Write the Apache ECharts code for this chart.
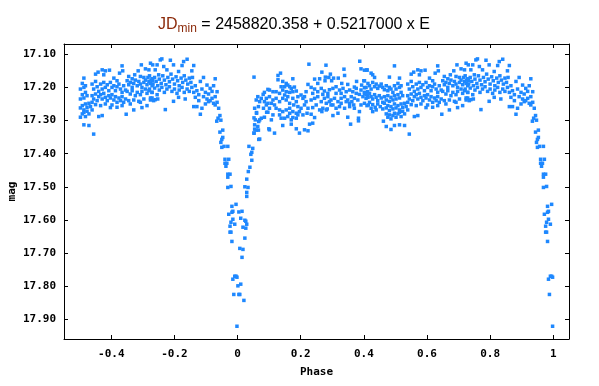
<!DOCTYPE html>
<html><head><meta charset="utf-8">
<script src="https://cdn.jsdelivr.net/npm/echarts@6/dist/echarts.min.js"></script>
<style>html,body{margin:0;padding:0;background:#fff}#c{width:599px;height:386px}</style>
</head><body><div id="c"></div>
<script>
// Phase-folded light curve, phase in [0,1); points with phase >= 0.5 are also shown at phase-1
const egress = [[0.004,17.576],[0.014,17.574],[0.010,17.595],[0.023,17.601],[0.026,17.604],[0.029,17.613],[0.017,17.622],[0.026,17.625],[0.023,17.655],[0.007,17.686],[0.017,17.689],[0.014,17.713],[0.001,17.799],[0.010,17.794],[0.004,17.825],[0.007,17.825],[0.020,17.843],[0.036,17.378],[0.048,17.384],[0.045,17.396],[0.042,17.402],[0.045,17.420],[0.039,17.441],[0.034,17.454],[0.029,17.477],[0.023,17.500],[0.033,17.502],[0.029,17.517],[0.029,17.529],[0.067,17.357],[0.052,17.338],[0.054,17.326],[0.066,17.329],[0.052,17.292],[0.060,17.276],[0.070,17.298]];
const bandEarly = [[0.052,17.169],[0.085,17.215],[0.096,17.206],[0.081,17.221],[0.064,17.228],[0.075,17.233],[0.059,17.238],[0.070,17.243],[0.085,17.243],[0.054,17.263],[0.066,17.258],[0.082,17.263],[0.092,17.275],[0.060,17.278],[0.075,17.293],[0.085,17.290],[0.056,17.298],[0.067,17.303],[0.054,17.313],[0.064,17.318],[0.059,17.329],[0.052,17.338],[0.070,17.356],[0.099,17.325],
[0.226,17.130],[0.280,17.133],[0.387,17.121],[0.337,17.145],[0.391,17.144],[0.402,17.148],[0.410,17.148],[0.267,17.154],[0.136,17.157],[0.128,17.164],[0.294,17.160],[0.339,17.164],[0.278,17.169],[0.289,17.170],[0.260,17.174],[0.244,17.175],[0.304,17.172],[0.319,17.172],[0.254,17.188],[0.175,17.174],[0.143,17.182],[0.128,17.177],[0.330,17.188],[0.377,17.182],[0.400,17.180],[0.349,17.191],[0.277,17.180],[0.298,17.180],[0.154,17.188],[0.149,17.198],[0.159,17.193],[0.170,17.203],[0.180,17.199],[0.101,17.208],[0.112,17.213],[0.122,17.213],[0.133,17.218],[0.143,17.208],[0.154,17.213],[0.165,17.215],[0.175,17.213],[0.186,17.211],[0.201,17.223],[0.212,17.228],[0.223,17.191],[0.233,17.200],[0.244,17.205],[0.254,17.213],[0.265,17.203],[0.275,17.211],[0.291,17.207],[0.302,17.203],[0.312,17.198],[0.323,17.208],[0.334,17.203],[0.344,17.213],[0.355,17.208],[0.365,17.213],[0.376,17.203],[0.391,17.208],[0.402,17.201],[0.412,17.213],[0.393,17.193],[0.370,17.199],[0.091,17.233],[0.101,17.228],[0.112,17.238],[0.122,17.233],[0.133,17.243],[0.143,17.233],[0.154,17.238],[0.165,17.248],[0.096,17.248],[0.107,17.248],[0.191,17.228],[0.207,17.233],[0.217,17.243],[0.233,17.238],[0.244,17.233],[0.254,17.228],[0.265,17.243],[0.275,17.233],[0.286,17.228],[0.296,17.238],[0.307,17.233],[0.318,17.243],[0.328,17.233],[0.339,17.228],[0.349,17.238],[0.360,17.228],[0.370,17.233],[0.381,17.238],[0.397,17.228],[0.407,17.233],[0.414,17.253],[0.391,17.253],[0.368,17.253],[0.355,17.248],[0.122,17.263],[0.133,17.268],[0.143,17.273],[0.154,17.268],[0.165,17.278],[0.175,17.273],[0.186,17.278],[0.191,17.283],[0.159,17.288],[0.175,17.291],[0.201,17.263],[0.212,17.253],[0.223,17.263],[0.238,17.261],[0.249,17.253],[0.260,17.268],[0.270,17.263],[0.281,17.268],[0.296,17.253],[0.312,17.263],[0.323,17.258],[0.339,17.263],[0.355,17.258],[0.370,17.263],[0.386,17.273],[0.096,17.275],[0.112,17.283],[0.133,17.283],[0.149,17.293],[0.220,17.278],[0.233,17.281],[0.244,17.291],[0.267,17.273],[0.284,17.265],[0.302,17.285],[0.318,17.278],[0.349,17.290],[0.383,17.293],[0.107,17.298],[0.138,17.293],[0.170,17.298],[0.186,17.293],[0.143,17.315],[0.170,17.311],[0.186,17.325],[0.212,17.328],[0.223,17.331],[0.228,17.311],[0.238,17.308],[0.101,17.328],[0.117,17.338],[0.196,17.338],[0.358,17.311],[0.383,17.301],
[0.138,17.198],[0.165,17.198],[0.149,17.223],[0.159,17.228],[0.175,17.233],[0.186,17.243],[0.178,17.253],[0.191,17.258],[0.165,17.263],[0.196,17.273],[0.207,17.283],[0.281,17.248],[0.291,17.243],[0.302,17.253],[0.328,17.248],[0.344,17.243],[0.270,17.221],[0.286,17.218],[0.312,17.218],[0.328,17.218],[0.402,17.218],[0.386,17.221],[0.412,17.223],[0.376,17.218],[0.362,17.243],[0.238,17.218],[0.217,17.213],[0.117,17.253],[0.091,17.253],[0.101,17.263]];
const bandMid = [[0.497,17.135],[0.634,17.135],[0.695,17.132],[0.724,17.127],[0.731,17.132],[0.410,17.147],[0.571,17.147],[0.581,17.150],[0.594,17.148],[0.558,17.154],[0.550,17.160],[0.576,17.162],[0.636,17.150],[0.626,17.157],[0.685,17.150],[0.708,17.144],[0.719,17.147],[0.423,17.157],[0.428,17.162],[0.434,17.170],[0.481,17.169],[0.513,17.172],[0.608,17.172],[0.618,17.180],[0.655,17.167],[0.666,17.174],[0.674,17.162],[0.692,17.167],[0.703,17.170],[0.716,17.170],[0.729,17.174],
[0.402,17.180],[0.413,17.188],[0.407,17.200],[0.418,17.195],[0.428,17.185],[0.423,17.205],[0.434,17.198],[0.439,17.190],[0.444,17.203],[0.449,17.196],[0.455,17.190],[0.460,17.200],[0.465,17.207],[0.471,17.195],[0.476,17.210],[0.481,17.200],[0.486,17.205],[0.492,17.215],[0.497,17.195],[0.502,17.205],[0.508,17.188],[0.513,17.200],[0.518,17.195],
[0.402,17.215],[0.407,17.222],[0.413,17.230],[0.418,17.218],[0.423,17.228],[0.428,17.235],[0.434,17.222],[0.439,17.230],[0.444,17.240],[0.449,17.225],[0.455,17.232],[0.460,17.245],[0.465,17.228],[0.471,17.238],[0.476,17.225],[0.481,17.242],[0.486,17.230],[0.492,17.238],[0.497,17.225],[0.502,17.235],[0.508,17.222],[0.513,17.232],[0.518,17.215],[0.523,17.225],
[0.402,17.248],[0.410,17.255],[0.418,17.245],[0.428,17.252],[0.436,17.260],[0.444,17.250],[0.452,17.258],[0.460,17.265],
[0.465,17.248],[0.471,17.262],[0.476,17.255],[0.481,17.270],[0.486,17.258],[0.492,17.265],[0.497,17.250],[0.502,17.262],[0.508,17.255],[0.513,17.268],[0.518,17.250],[0.523,17.260],[0.529,17.248],[0.534,17.258],[0.539,17.245],
[0.471,17.280],[0.476,17.290],[0.481,17.283],[0.486,17.295],[0.492,17.285],[0.497,17.278],[0.502,17.290],[0.508,17.280],[0.513,17.275],[0.518,17.288],[0.523,17.272],[0.529,17.280],[0.539,17.268],
[0.462,17.302],[0.471,17.318],[0.486,17.327],[0.497,17.315],[0.513,17.313],[0.529,17.315],[0.544,17.341],[0.560,17.288],[0.571,17.285],[0.597,17.261],[0.647,17.281],[0.671,17.268],[0.697,17.261],[0.713,17.255],[0.428,17.273],[0.439,17.268],[0.423,17.263],
[0.539,17.190],[0.544,17.205],[0.550,17.182],[0.555,17.198],[0.560,17.212],[0.566,17.190],[0.571,17.205],[0.576,17.185],[0.581,17.200],[0.587,17.192],[0.592,17.210],[0.597,17.185],[0.602,17.200],[0.608,17.195],[0.613,17.210],[0.618,17.198],[0.624,17.190],[0.629,17.205],[0.634,17.215],[0.639,17.195],[0.645,17.208],
[0.539,17.225],[0.544,17.235],[0.550,17.220],[0.555,17.240],[0.560,17.228],[0.566,17.222],[0.571,17.235],[0.576,17.218],[0.581,17.230],[0.587,17.240],[0.592,17.225],[0.597,17.232],[0.602,17.222],[0.608,17.238],[0.613,17.228],[0.618,17.245],[0.624,17.232],[0.629,17.240],[0.634,17.228],[0.639,17.245],[0.645,17.235],
[0.550,17.252],[0.566,17.255],[0.581,17.250],[0.602,17.253],[0.618,17.260],[0.634,17.255],
[0.650,17.180],[0.655,17.192],[0.660,17.185],[0.666,17.200],[0.671,17.188],[0.676,17.178],[0.682,17.195],[0.687,17.182],[0.692,17.190],[0.697,17.200],[0.703,17.185],[0.708,17.178],[0.713,17.192],[0.719,17.182],[0.724,17.188],[0.729,17.195],[0.731,17.180],
[0.650,17.212],[0.660,17.220],[0.666,17.210],[0.676,17.225],[0.682,17.215],[0.692,17.222],[0.697,17.212],[0.708,17.205],[0.713,17.218],[0.719,17.210],[0.729,17.215],
[0.655,17.240],[0.671,17.238],[0.687,17.242],[0.703,17.235],[0.724,17.238],[0.660,17.250],[0.692,17.245]];
const bandLate = [[0.755,17.117],[0.760,17.114],[0.787,17.118],[0.840,17.115],[0.829,17.122],[0.824,17.134],[0.855,17.150],[0.861,17.134],[0.745,17.132],[0.766,17.137],[0.776,17.147],[0.797,17.132],[0.813,17.152],[0.739,17.147],[0.750,17.162],
[0.721,17.165],[0.726,17.178],[0.732,17.190],[0.737,17.170],[0.742,17.182],[0.747,17.195],[0.752,17.175],[0.758,17.188],[0.763,17.165],[0.768,17.178],[0.773,17.192],[0.779,17.170],[0.784,17.183],[0.789,17.160],[0.794,17.175],[0.800,17.190],[0.805,17.168],[0.810,17.180],[0.815,17.195],[0.821,17.172],[0.826,17.185],[0.831,17.165],[0.836,17.178],[0.842,17.190],[0.847,17.172],[0.852,17.185],[0.857,17.170],
[0.721,17.205],[0.729,17.215],[0.737,17.202],[0.745,17.222],[0.752,17.208],[0.760,17.200],[0.768,17.215],[0.776,17.205],[0.784,17.198],[0.792,17.212],[0.800,17.205],[0.808,17.218],[0.815,17.208],[0.824,17.200],[0.831,17.215],[0.840,17.205],[0.847,17.212],[0.855,17.200],[0.861,17.215],
[0.724,17.232],[0.734,17.240],[0.747,17.235],[0.771,17.267],[0.797,17.242],[0.739,17.237],[0.813,17.230],[0.834,17.235],[0.729,17.232],
[0.892,17.170],[0.929,17.174],[0.924,17.195],[0.882,17.182],[0.903,17.193],[0.913,17.203],[0.935,17.213],[0.919,17.233],[0.908,17.243],[0.929,17.253],[0.940,17.263],[0.887,17.263],[0.871,17.258],[0.861,17.258],[0.882,17.281],
[0.866,17.195],[0.871,17.210],[0.877,17.222],[0.887,17.205],[0.892,17.228],[0.898,17.215],[0.903,17.235],[0.908,17.220],[0.913,17.240],[0.919,17.212],[0.924,17.248],[0.929,17.228],[0.877,17.240],[0.898,17.250],[0.866,17.230],[0.935,17.245]];
const ingress = [[0.944,17.285],[0.938,17.293],[0.934,17.302],[0.947,17.299],[0.944,17.335],[0.953,17.329],[0.950,17.357],[0.953,17.351],[0.947,17.366],[0.950,17.381],[0.957,17.378],[0.969,17.378],[0.960,17.417],[0.972,17.417],[0.960,17.429],[0.966,17.429],[0.963,17.438],[0.969,17.462],[0.976,17.462],[0.969,17.471],[0.969,17.502],[0.979,17.499],[0.995,17.553],[0.982,17.559],[0.985,17.574],[0.982,17.577],[0.972,17.583],[0.985,17.598],[0.979,17.607],[0.991,17.613],[0.976,17.619],[0.976,17.637],[0.979,17.637],[0.982,17.665],[0.991,17.770],[0.995,17.770],[0.998,17.773],[0.985,17.779],[0.988,17.825],[0.998,17.921]];

const xTicks = [-0.4,-0.2,0,0.2,0.4,0.6,0.8,1];
const yTicks = [17.1,17.2,17.3,17.4,17.5,17.6,17.7,17.8,17.9];

const base = [].concat(egress, bandEarly, bandMid, bandLate, ingress);
const folded = base.filter(p => p[0] >= 0.5).map(p => [+(p[0] - 1).toFixed(3), p[1]]);
const points = base.concat(folded);

const labelFont = {fontFamily:'DejaVu Sans Mono', fontWeight:'bold', fontSize:11, color:'#000'};
const lineStyle = {color:'#000', width:1};
function xFmt(v){ return Math.abs(v - Math.round(v)) < 1e-9 ? String(Math.round(v)) : v.toFixed(1); }

const chart = echarts.init(document.getElementById('c'), null, {renderer:'canvas'});
chart.setOption({
  animation:false,
  backgroundColor:'#fff',
  title:{
    left:153, top:10,
    text:'{jd|JD}{sub|min}{t| = 2458820.358 + 0.5217000 x E}',
    textStyle:{
      fontWeight:'normal',
      rich:{
        jd:{fontFamily:'Liberation Sans', fontWeight:'normal', fontSize:16, color:'#8b2a0a', lineHeight:20, verticalAlign:'middle'},
        sub:{fontFamily:'Liberation Sans', fontWeight:'normal', fontSize:12, color:'#8b2a0a', lineHeight:12, verticalAlign:'bottom'},
        t:{fontFamily:'Liberation Sans', fontWeight:'normal', fontSize:16, color:'#000', lineHeight:20, verticalAlign:'middle'}
      }
    }
  },
  grid:{left:64, top:44, width:505, height:295, containLabel:false, outerBoundsMode:'none'},
  xAxis:[
    {type:'value', position:'bottom', min:-0.55, max:1.05,
     axisLine:{show:true, onZero:false, lineStyle},
     axisTick:{show:true, inside:true, length:4, customValues:xTicks, lineStyle},
     axisLabel:Object.assign({show:true, customValues:xTicks, margin:10, formatter:xFmt}, labelFont),
     splitLine:{show:false},
     name:'Phase', nameLocation:'middle', nameGap:28, nameMoveOverlap:false, nameTextStyle:labelFont},
    {type:'value', position:'top', min:-0.55, max:1.05,
     axisLine:{show:true, onZero:false, lineStyle},
     axisTick:{show:true, inside:true, length:4, customValues:xTicks, lineStyle},
     axisLabel:{show:false}, splitLine:{show:false}}
  ],
  yAxis:[
    {type:'value', position:'left', inverse:true, min:17.069, max:17.9595,
     axisLine:{show:true, onZero:false, lineStyle},
     axisTick:{show:true, inside:true, length:4, customValues:yTicks, lineStyle},
     axisLabel:Object.assign({show:true, customValues:yTicks, margin:8, formatter:v => v.toFixed(2)}, labelFont),
     splitLine:{show:false},
     name:'mag', nameLocation:'middle', nameGap:46, nameMoveOverlap:false, nameTextStyle:labelFont},
    {type:'value', position:'right', inverse:true, min:17.069, max:17.9595,
     axisLine:{show:true, onZero:false, lineStyle},
     axisTick:{show:true, inside:true, length:4, customValues:yTicks, lineStyle},
     axisLabel:{show:false}, splitLine:{show:false}}
  ],
  series:[{
    type:'scatter', xAxisIndex:0, yAxisIndex:0, data:points,
    symbol:'rect', symbolSize:3.5, silent:true,
    itemStyle:{color:'#1e88ff', opacity:1}
  }]
});
</script></body></html>
